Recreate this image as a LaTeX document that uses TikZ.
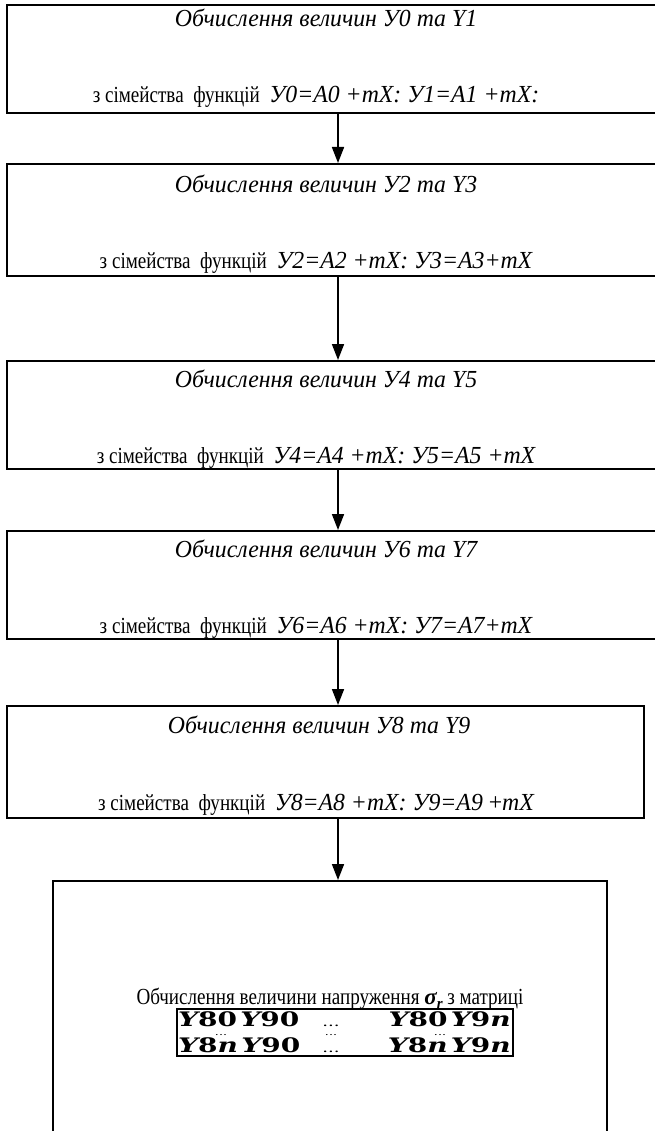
\documentclass[tikz,border=0pt]{standalone}
\usepackage{fontspec}
\setmainfont{Liberation Serif}
\newfontfamily\upf{Liberation Serif}[FakeStretch=0.83]
\newfontfamily\itf{Liberation Serif}[FakeStretch=0.97]
\newfontfamily\matfont{DejaVu Serif}[FakeStretch=1.4]
\usetikzlibrary{arrows.meta}
\newcommand\yy[1]{{\itshape Y}#1}
\newcommand\nn{{\itshape n}}
\newcommand\itp[1]{{\itf\fontsize{24.5}{28}\selectfont\itshape #1}}
\begin{document}
\begin{tikzpicture}[x=1pt,y=-1pt,
  blk/.style={draw,line width=1.7pt,inner sep=0pt,anchor=north west},
  txt/.style={inner sep=0pt,font=\upf\fontsize{23}{27}\selectfont},
  mtx/.style={inner sep=0pt,font=\matfont\bfseries\fontsize{20}{22}\selectfont},
  rdt/.style={inner sep=0pt,anchor=base,font=\matfont\fontsize{13}{13}\selectfont},
  dts/.style={inner sep=0pt,anchor=base,text height=1.5pt,text depth=0pt,font=\matfont\fontsize{9}{9}\selectfont},
  arr/.style={line width=1.7pt,-{Triangle[length=16pt,width=12pt]}}]
\useasboundingbox (0,0) rectangle (654,1131);
% boxes
\node[blk,minimum width=670pt,minimum height=108pt] (b1) at (6,4) {};
\node[blk,minimum width=670pt,minimum height=112pt] (b2) at (6,163) {};
\node[blk,minimum width=670pt,minimum height=108pt] (b3) at (6,360) {};
\node[blk,minimum width=670pt,minimum height=108pt] (b4) at (6,530) {};
\node[blk,minimum width=637pt,minimum height=112pt] (b5) at (6,705) {};
\node[blk,minimum width=554pt,minimum height=300pt] (b6) at (52,880) {};
% texts
\node[txt] (t1a) at (326,18) {\itp{Обчислення величин У0 та Y1}};
\node[txt] (t1b) at (316,97) {з сімейства\ \ функцій\ \ \itp{У0=А0 +mX: У1=А1 +mX:}};
\node[txt] (t2a) at (326,184) {\itp{Обчислення величин У2 та Y3}};
\node[txt] (t2b) at (316,263) {з сімейства\ \ функцій\ \ \itp{У2=А2 +mX: У3=А3+mX}};
\node[txt] (t3a) at (326,379) {\itp{Обчислення величин У4 та Y5}};
\node[txt] (t3b) at (316,458) {з сімейства\ \ функцій\ \ \itp{У4=А4 +mX: У5=А5 +mX}};
\node[txt] (t4a) at (326,549) {\itp{Обчислення величин У6 та Y7}};
\node[txt] (t4b) at (316,628) {з сімейства\ \ функцій\ \ \itp{У6=А6 +mX: У7=А7+mX}};
\node[txt] (t5a) at (319,725) {\itp{Обчислення величин У8 та Y9}};
\node[txt] (t5b) at (316,805) {з сімейства\ \ функцій\ \ \itp{У8=А8 +mX: У9=А9 }{\itf\fontsize{24.5}{28}\selectfont +}\itp{mX}};
\node[txt,font=\upf\fontsize{23}{26}\selectfont] (t6) at (330,999) {Обчислення величини напруження {\rmfamily\fontsize{23}{25}\selectfont\bfseries\itshape σ\raisebox{-0.35ex}{\fontsize{15}{15}\selectfont r}} з матриці};
% matrix
\node[draw,line width=1.4pt,minimum width=336pt,minimum height=47pt,inner sep=0pt] (mat) at (345,1032.5) {};
\node[mtx,anchor=base west] (m11) at (178,1026) {\yy{80}\,\yy{90}};
\node[rdt] (m12) at (331,1026) {...};
\node[mtx,anchor=base east] (m13) at (511,1026) {\yy{80}\,\yy{9\nn}};
\node[dts] (d1) at (221,1035) {...};
\node[dts] (d2) at (331,1035) {...};
\node[dts] (d3) at (440,1035) {...};
\node[mtx,anchor=base west] (m21) at (178,1052) {\yy{8\nn}\,\yy{90}};
\node[rdt] (m22) at (331,1052) {...};
\node[mtx,anchor=base east] (m23) at (511,1052) {\yy{8\nn}\,\yy{9\nn}};
% arrows
\coordinate (ax) at (338,0);
\draw[arr] (b1.south -| ax) -- (b2.north -| ax);
\draw[arr] (b2.south -| ax) -- (b3.north -| ax);
\draw[arr] (b3.south -| ax) -- (b4.north -| ax);
\draw[arr] (b4.south -| ax) -- (b5.north -| ax);
\draw[arr] (b5.south -| ax) -- (b6.north -| ax);
\end{tikzpicture}
\end{document}
